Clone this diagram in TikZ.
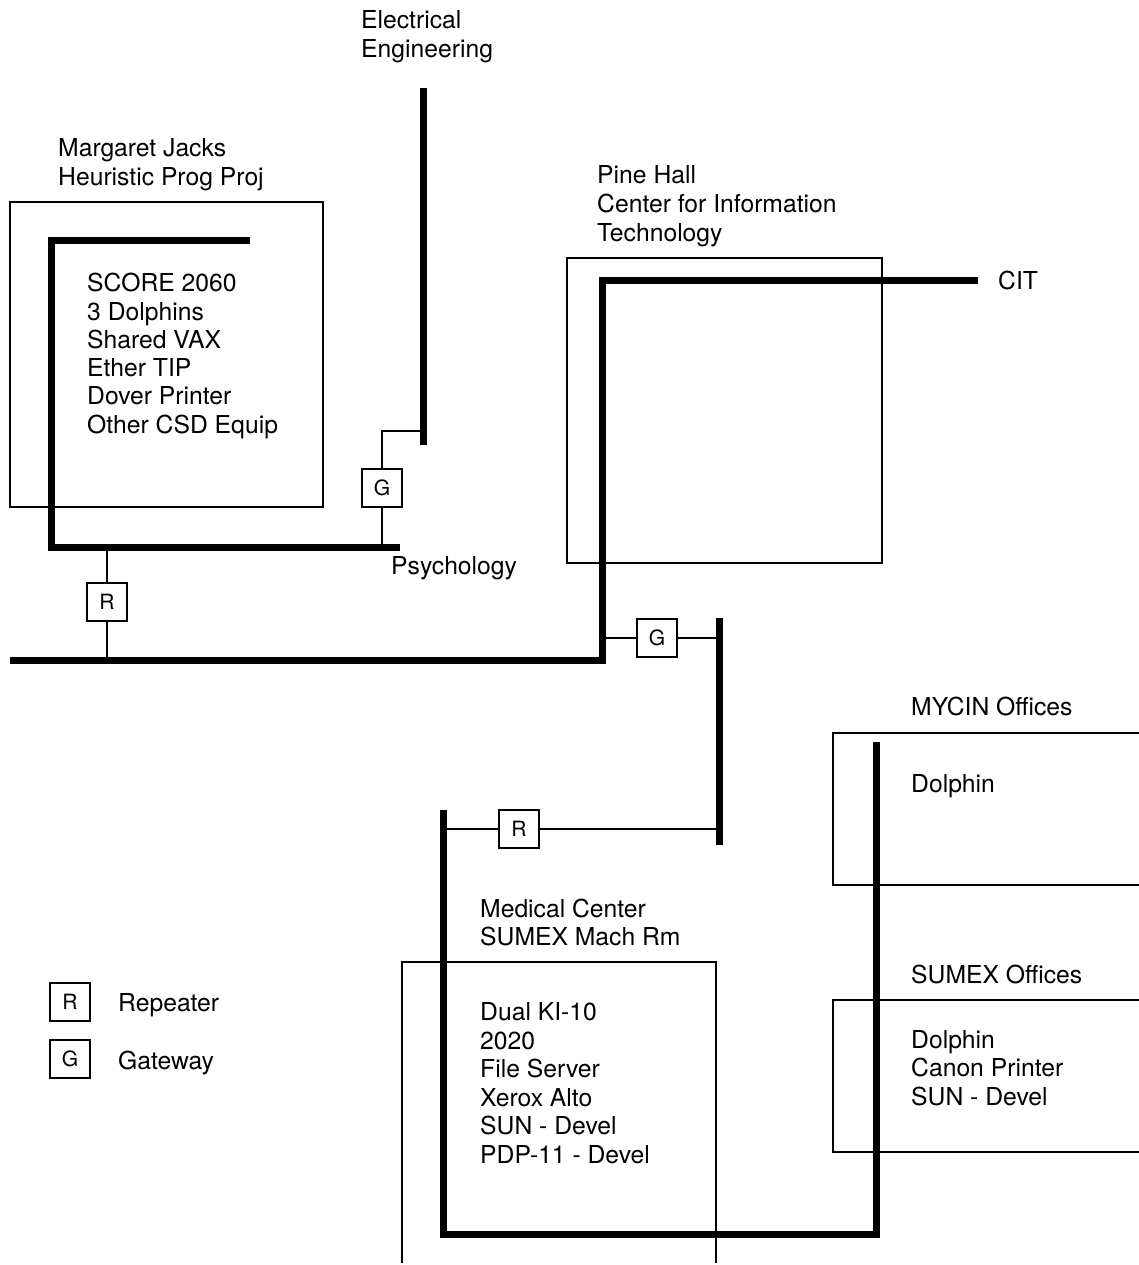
\documentclass[tikz,border=0pt]{standalone}
\usepackage{fontspec}
\setmainfont{TeX Gyre Heros}
\begin{document}
\begin{tikzpicture}[x=1pt,y=-1pt,
  bus/.style={line width=7pt, line join=miter},
  link/.style={line width=2pt},
  room/.style={line width=1.8pt},
  dev/.style={draw, line width=2.3pt, minimum width=40pt, minimum height=38pt, inner sep=0pt, font=\fontsize{21}{21}\selectfont},
  lbl/.style={anchor=base west, inner sep=0pt, font=\fontsize{24.7}{28}\selectfont}]
\useasboundingbox (0,0) rectangle (1139,1265);
\fill[white] (0,0) rectangle (1139,1265);

% rooms
\draw[room] (10,202) rectangle (323,507);
\draw[room] (567,258) rectangle (882,563);
\draw[room] (402,1263) -- (402,962) -- (716,962) -- (716,1263);
\draw[room] (1139,733) -- (833,733) -- (833,885) -- (1139,885);
\draw[room] (1139,1000) -- (833,1000) -- (833,1152) -- (1139,1152);

% coordinates
\coordinate (mjA) at (250,241);
\coordinate (mjB) at (51,241);
\coordinate (mjC) at (51,547);
\coordinate (mjD) at (400,547);
\coordinate (eeA) at (423,88);
\coordinate (eeB) at (423,445);
\coordinate (mbA) at (10,660);
\coordinate (mbB) at (602,660);
\coordinate (mbC) at (602,280);
\coordinate (mbD) at (978,280);
\coordinate (vA) at (719,618);
\coordinate (vB) at (719,845);
\coordinate (mdA) at (443,810);
\coordinate (mdB) at (443,1234);
\coordinate (mdC) at (876,1234);
\coordinate (mdD) at (876,742);

% buses
\draw[bus] (mjA) -- (mjB) -- (mjC) -- (mjD);
\draw[bus] (eeA) -- (eeB);
\draw[bus] (mbA) -- (mbB) -- (mbC) -- (mbD);
\draw[bus] (vA) -- (vB);
\draw[bus] (mdA) -- (mdB) -- (mdC) -- (mdD);

% devices
\node[dev] (g1) at (382,488) {G};
\node[dev] (r1) at (107,602) {R};
\node[dev] (g2) at (657,638) {G};
\node[dev] (r2) at (519,829) {R};
\node[dev] (lr) at (70,1002) {R};
\node[dev] (lg) at (70,1059) {G};

\coordinate (g1t) at (382,431);
\draw[link] (g1.north) -- (g1t) -- (g1t -| eeA);
\draw[link] (g1.south) -- (g1.south |- mjD);
\draw[link] (r1.north) -- (r1.north |- mjD);
\draw[link] (r1.south) -- (r1.south |- mbA);
\draw[link] (g2.west) -- (g2.west -| mbB);
\draw[link] (g2.east) -- (g2.east -| vA);
\draw[link] (r2.west) -- (r2.west -| mdA);
\draw[link] (r2.east) -- (r2.east -| vA);

% labels
\node[lbl] (ee1) at (361,29) {Electrical};
\node[lbl] (ee2) at (361,58) {Engineering};
\node[lbl] (mjl1) at (58,157) {Margaret Jacks};
\node[lbl] (mjl2) at (58,186) {Heuristic Prog Proj};
\node[lbl] (ph1) at (597,184) {Pine Hall};
\node[lbl] (ph2) at (597,212.5) {Center for Information};
\node[lbl] (ph3) at (597,241) {Technology};
\node[lbl] (cit) at (998,289) {CIT};
\node[lbl] (psy) at (391,574) {Psychology};
\foreach \t [count=\i] in {SCORE 2060,3 Dolphins,Shared VAX,Ether TIP,Dover Printer,Other CSD Equip}
  \node[lbl] (mj\i) at (87,{291.7+28.3*(\i-1)}) {\t};
\node[lbl] (mc1) at (480,917) {Medical Center};
\node[lbl] (mc2) at (480,945) {SUMEX Mach Rm};
\foreach \t [count=\i] in {Dual KI-10,2020,File Server,Xerox Alto,SUN - Devel,PDP-11 - Devel}
  \node[lbl] (md\i) at (480,{1020.5+28.5*(\i-1)}) {\t};
\node[lbl] (my1) at (911,715) {MYCIN Offices};
\node[lbl] (my2) at (911,792) {Dolphin};
\node[lbl] (so1) at (911,983) {SUMEX Offices};
\node[lbl] (so2) at (911,1048) {Dolphin};
\node[lbl] (so3) at (911,1076.5) {Canon Printer};
\node[lbl] (so4) at (911,1105) {SUN - Devel};
\node[lbl] (lrt) at (118,1011) {Repeater};
\node[lbl] (lgt) at (118,1069) {Gateway};
\end{tikzpicture}
\end{document}
